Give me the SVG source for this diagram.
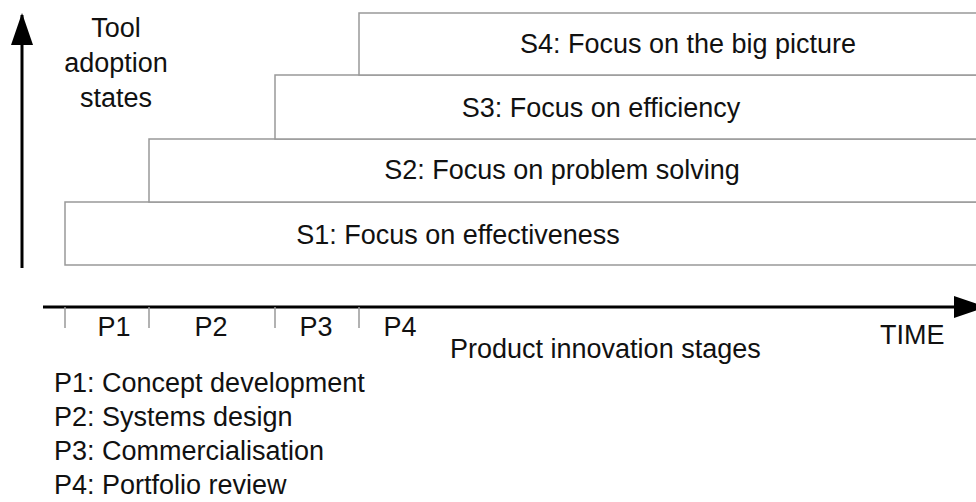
<svg xmlns="http://www.w3.org/2000/svg" width="976" height="502" viewBox="0 0 976 502">
  <style>
    text { font-family: "Liberation Sans", "Noto Sans CJK JP", sans-serif; font-size: 27px; fill: #111; }
    .box { fill: #fff; stroke: #999; stroke-width: 1.5; }
    .tick { stroke: #999; stroke-width: 1.5; }
    .axis { stroke: #000; stroke-width: 3; fill: none; }
    .mid { text-anchor: middle; }
  </style>
  <defs>
    <marker id="head" viewBox="0 0 32 22" refX="30" refY="11" markerWidth="32" markerHeight="22" markerUnits="userSpaceOnUse" orient="auto">
      <path d="M0,0 L32,11 L0,22 Z" fill="#000"/>
    </marker>
  </defs>

  <!-- adoption states, stacked as steps -->
  <g id="s1">
    <rect class="box" x="65" y="202" width="930" height="63"/>
    <text class="mid" x="458" y="244">S1: Focus on effectiveness</text>
  </g>
  <g id="s2">
    <rect class="box" x="149" y="139" width="850" height="63"/>
    <text class="mid" x="562" y="179">S2: Focus on problem solving</text>
  </g>
  <g id="s3">
    <rect class="box" x="275" y="75" width="720" height="64"/>
    <text class="mid" x="601" y="117">S3: Focus on efficiency</text>
  </g>
  <g id="s4">
    <rect class="box" x="359" y="13" width="640" height="62"/>
    <text class="mid" x="688" y="53">S4: Focus on the big picture</text>
  </g>

  <!-- axes -->
  <g id="connectors">
    <line class="axis" x1="22" y1="268" x2="22" y2="15" marker-end="url(#head)"/>
    <line class="axis" x1="43" y1="307" x2="984" y2="307" marker-end="url(#head)"/>
    <line class="tick" x1="65" y1="307" x2="65" y2="328"/>
    <line class="tick" x1="149" y1="307" x2="149" y2="328"/>
    <line class="tick" x1="275" y1="307" x2="275" y2="328"/>
    <line class="tick" x1="359" y1="307" x2="359" y2="328"/>
  </g>

  <g id="y-label">
    <text class="mid" x="116" y="37">Tool</text>
    <text class="mid" x="116" y="72">adoption</text>
    <text class="mid" x="116" y="107">states</text>
  </g>

  <g id="stages">
    <text class="mid" x="114" y="336">P1</text>
    <text class="mid" x="211" y="336">P2</text>
    <text class="mid" x="316" y="336">P3</text>
    <text class="mid" x="400" y="336">P4</text>
    <text x="450" y="358">Product innovation stages</text>
    <text x="880" y="344">TIME</text>
  </g>

  <g id="legend">
    <text x="54" y="392">P1: Concept development</text>
    <text x="54" y="426">P2: Systems design</text>
    <text x="54" y="460">P3: Commercialisation</text>
    <text x="54" y="494">P4: Portfolio review</text>
  </g>
</svg>
